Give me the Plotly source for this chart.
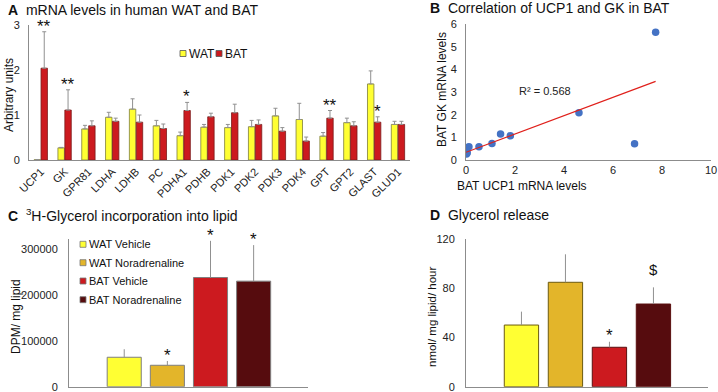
import numpy as np
import plotly.graph_objects as go

# ---------------- Data ----------------
# Panel A: mRNA levels
genes = ["UCP1", "GK", "GPR81", "LDHA", "LDHB", "PC", "PDHA1", "PDHB", "PDK1",
         "PDK2", "PDK3", "PDK4", "GPT", "GPT2", "GLAST", "GLUD1"]
wat_mean = [0.005, 0.27, 0.69, 0.95, 1.13, 0.76, 0.54, 0.73, 0.72,
            0.74, 0.98, 0.90, 0.53, 0.83, 1.69, 0.79]
wat_err = [0.0, 0.01, 0.08, 0.11, 0.23, 0.12, 0.08, 0.06, 0.07,
           0.14, 0.17, 0.36, 0.08, 0.10, 0.29, 0.07]
bat_mean = [2.04, 1.11, 0.76, 0.86, 0.84, 0.70, 1.10, 0.96, 1.05,
            0.79, 0.64, 0.42, 0.93, 0.76, 0.84, 0.79]
bat_err = [0.81, 0.45, 0.11, 0.07, 0.16, 0.10, 0.18, 0.08, 0.19,
           0.10, 0.08, 0.09, 0.17, 0.09, 0.12, 0.07]
sig_a_genes = ["UCP1", "GK", "PDHA1", "GPT", "GLAST"]
sig_a_marks = ["**", "**", "*", "**", "*"]
series_a = ["WAT", "BAT"]
series_a_colors = ["#FFFF33", "#CC1A1F"]

# Panel B: correlation
ucp1_bat = [7.74, 4.61, 6.88, 1.41, 1.81, 1.06, 0.53, 0.12, 0.00, 0.02, 0.05]
gk_bat = [5.64, 2.08, 0.72, 1.15, 1.07, 0.73, 0.59, 0.59, 0.40, 0.26, 0.32]
r2_text = "R² = 0.568"

# Panel C & D groups
groups = ["WAT Vehicle", "WAT Noradrenaline", "BAT Vehicle", "BAT Noradrenaline"]
group_colors = ["#FFFF33", "#E3B52A", "#CC1A1F", "#560C0E"]
dpm_mean = [64200, 46700, 238000, 230100]
dpm_err = [17500, 9400, 80000, 78600]
dpm_marks = ["", "*", "*", "*"]
glyc_mean = [50.2, 85.0, 32.1, 67.3]
glyc_err = [10.9, 22.8, 4.5, 13.6]
glyc_marks = ["", "", "*", "$"]

FONT = "Liberation Sans, Arial, sans-serif"
AXC = "#8c8c8c"
ERRC = "#909090"
W, H = 718, 392

def px(x):
    return x / W

def py(y):
    return 1 - y / H

fig = go.Figure()
annotations = []
shapes = []

def legend_item(x, y, color, border, label, size):
    # small square key + text, placed in paper coordinates
    shapes.append(dict(type="rect", xref="paper", yref="paper",
                       x0=px(x), x1=px(x + 6), y0=py(y + 3), y1=py(y - 3),
                       fillcolor=color, line=dict(color=border, width=0.8)))
    annotations.append(dict(x=px(x + 6.5), y=py(y), xref="paper", yref="paper",
                            xanchor="left", yanchor="middle", showarrow=False,
                            text=label, font=dict(family=FONT, size=size, color="#111")))

# ---------------- Panel A ----------------
fig.add_trace(go.Bar(
    x=genes, y=wat_mean, name=series_a[0], width=0.27, offset=-0.285, showlegend=False,
    marker=dict(color=series_a_colors[0], line=dict(color="#7d7d3a", width=0.8)),
    error_y=dict(type="data", array=wat_err, arrayminus=[0]*len(wat_err),
                 symmetric=False, color=ERRC, thickness=1, width=2),
    xaxis="x", yaxis="y"))
fig.add_trace(go.Bar(
    x=genes, y=bat_mean, name=series_a[1], width=0.27, offset=0.005, showlegend=False,
    marker=dict(color=series_a_colors[1], line=dict(color="#7a1a1a", width=0.8)),
    error_y=dict(type="data", array=bat_err, arrayminus=[0]*len(bat_err),
                 symmetric=False, color=ERRC, thickness=1, width=2),
    xaxis="x", yaxis="y"))

for g, m in zip(sig_a_genes, sig_a_marks):
    i = genes.index(g)
    top = bat_mean[i] + bat_err[i]
    annotations.append(dict(x=g, y=top, xref="x", yref="y", text=m,
                            showarrow=False, yanchor="bottom", yshift=-6, xshift=3,
                            font=dict(family=FONT, size=17, color="#111")))

legend_item(180, 53.5, series_a_colors[0], "#555", series_a[0], 12)
legend_item(216, 53.5, series_a_colors[1], "#555", series_a[1], 12)

# ---------------- Panel B ----------------
fig.add_trace(go.Scatter(
    x=ucp1_bat, y=gk_bat, mode="markers", showlegend=False,
    marker=dict(color="#4472C4", size=7.5),
    xaxis="x2", yaxis="y2"))
slope, intercept = np.polyfit(ucp1_bat, gk_bat, 1)
xl = np.array([0.0, max(ucp1_bat)])
fig.add_trace(go.Scatter(
    x=xl, y=slope * xl + intercept, mode="lines", showlegend=False,
    line=dict(color="#E0201B", width=1.2), xaxis="x2", yaxis="y2"))
annotations.append(dict(x=2.1, y=3.05, xref="x2", yref="y2", text=r2_text,
                        showarrow=False, xanchor="left",
                        font=dict(family=FONT, size=11, color="#222")))

# ---------------- Panel C ----------------
legend_rows = [244.3, 262.7, 281.0, 299.7]
for k, g in enumerate(groups):
    fig.add_trace(go.Bar(
        x=[g], y=[dpm_mean[k]], name=g, width=0.79, offset=-0.395, showlegend=False,
        marker=dict(color=group_colors[k], line=dict(color="#7f7f7f", width=1)),
        error_y=dict(type="data", array=[dpm_err[k]], arrayminus=[0],
                     symmetric=False, color=ERRC, thickness=1, width=0),
        xaxis="x3", yaxis="y3"))
    if dpm_marks[k]:
        annotations.append(dict(x=g, y=dpm_mean[k] + dpm_err[k], xref="x3", yref="y3",
                                text=dpm_marks[k], showarrow=False, yanchor="bottom",
                                yshift=-6, font=dict(family=FONT, size=17, color="#111")))
    legend_item(80, legend_rows[k], group_colors[k], "#777", g, 11)

# ---------------- Panel D ----------------
for k, g in enumerate(groups):
    fig.add_trace(go.Bar(
        x=[g], y=[glyc_mean[k]], name=g, width=0.78, offset=-0.39, showlegend=False,
        marker=dict(color=group_colors[k],
                    line=dict(color="#6b5a10" if k < 2 else "#5a1010", width=1)),
        error_y=dict(type="data", array=[glyc_err[k]], arrayminus=[0],
                     symmetric=False, color=ERRC, thickness=1, width=0),
        xaxis="x4", yaxis="y4"))
    if glyc_marks[k]:
        annotations.append(dict(x=g, y=glyc_mean[k] + glyc_err[k], xref="x4", yref="y4",
                                text=glyc_marks[k], showarrow=False, yanchor="bottom",
                                yshift=-5 if glyc_marks[k] == "*" else 7,
                                font=dict(family=FONT, size=17 if glyc_marks[k] == "*" else 15,
                                          color="#111")))

# ---------------- Titles & axis labels ----------------
def title(x, y, letter, txt):
    annotations.append(dict(x=px(x), y=py(y), xref="paper", yref="paper", xanchor="left",
                            yanchor="middle", showarrow=False,
                            text=f"<b>{letter}</b>  {txt}",
                            font=dict(family=FONT, size=14, color="#111")))

title(6, 10, "A", "mRNA levels in human WAT and BAT")
title(428, 8, "B", "Correlation of UCP1 and GK in BAT")
title(6, 215, "C", "<sup>3</sup>H-Glycerol incorporation into lipid")
title(428, 215, "D", "Glycerol release")

def ylab(x, y, txt, size=12):
    annotations.append(dict(x=px(x), y=py(y), xref="paper", yref="paper", textangle=-90,
                            showarrow=False, text=txt, xanchor="center", yanchor="middle",
                            font=dict(family=FONT, size=size, color="#111")))

ylab(9, 95, "Arbitrary units")
ylab(442, 90, "BAT GK mRNA levels")
ylab(16, 317, "DPM/ mg lipid")
ylab(432, 317, "nmol/ mg lipid/ hour", 11.5)
annotations.append(dict(x=px(589), y=py(186), xref="paper", yref="paper",
                        showarrow=False, text="BAT UCP1 mRNA levels",
                        font=dict(family=FONT, size=12, color="#111")))

tickfont = dict(family=FONT, size=11, color="#222")
axbase = dict(showgrid=False, zeroline=False, showline=True, linecolor=AXC,
              linewidth=1, ticks="", tickfont=tickfont, automargin=False,
              ticklabeloverflow="allow")

fig.update_layout(
    width=W, height=H, autosize=False,
    margin=dict(l=0, r=0, t=0, b=0, pad=0),
    paper_bgcolor="white", plot_bgcolor="white",
    font=dict(family=FONT, size=11, color="#222"),
    barmode="overlay", showlegend=False,
    xaxis=dict(**axbase, domain=[px(29), px(410)], range=[-0.5, len(genes) - 0.5],
               tickangle=-45, anchor="y", categoryorder="array", categoryarray=genes),
    yaxis=dict(**axbase, domain=[py(160), py(25)], range=[0, 3],
               tickvals=[0, 1, 2, 3], anchor="x", ticklabelstandoff=6),
    xaxis2=dict(**axbase, domain=[px(466), px(711)], range=[0, 10],
                tickvals=[0, 2, 4, 6, 8, 10], anchor="y2"),
    yaxis2=dict(**axbase, domain=[py(160), py(24)], range=[0, 6],
                tickvals=[0, 1, 2, 3, 4, 5, 6], anchor="x2", ticklabelstandoff=6),
    xaxis3=dict(**axbase, domain=[px(69), px(308)], range=[-1.28, 4.26],
                showticklabels=False, anchor="y3", categoryorder="array",
                categoryarray=groups),
    yaxis3=dict(**axbase, domain=[py(386.7), py(239)], range=[0, 322000],
                tickvals=[0, 100000, 200000, 300000], tickformat="d", anchor="x3",
                ticklabelstandoff=8),
    xaxis4=dict(**axbase, domain=[px(466), px(708)], range=[-1.26, 4.24],
                showticklabels=False, anchor="y4", categoryorder="array",
                categoryarray=groups),
    yaxis4=dict(**axbase, domain=[py(386.7), py(239.3)], range=[0, 120],
                tickvals=[0, 40, 80, 120], anchor="x4", ticklabelstandoff=8),
    annotations=annotations,
    shapes=shapes,
)

fig.write_html("out.html", config={"displayModeBar": False},
               post_script="document.body.style.margin='0px';document.body.style.overflow='hidden';")
